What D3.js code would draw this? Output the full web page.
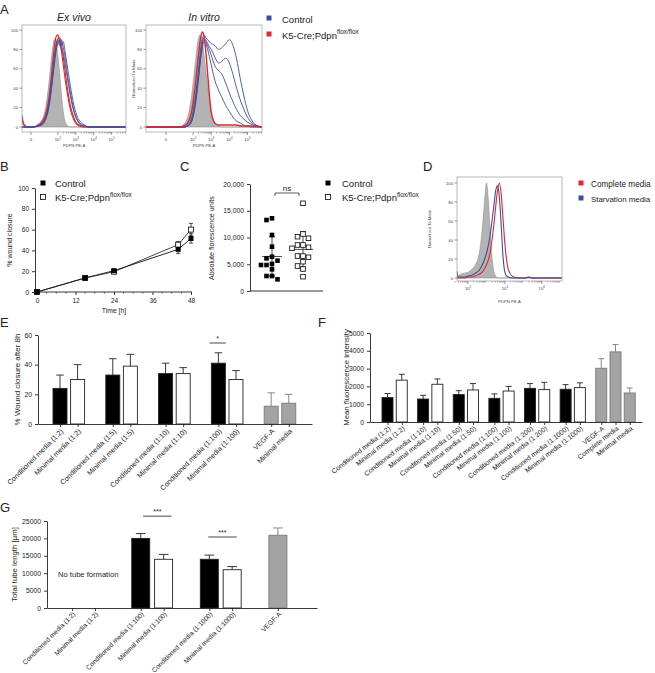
<!DOCTYPE html>
<html><head><meta charset="utf-8">
<script src="https://cdn.jsdelivr.net/npm/d3@7"></script>
<style>
body{margin:0;background:#fff;}
svg{display:block;}
</style></head><body>
<svg id="c" width="655" height="673"></svg>
<script>
// ================= DATA =================
// Panel A – flow histograms (display units on biexponential axis, % of mode)
const exGrid  = [0,0.1,0.3,0.6,0.9,1.1,1.3,1.5,1.7,1.8,1.9,2.0,2.1,2.2,2.3,2.4,2.5,2.7,2.9,3.1,3.4,3.8,4.5,5.2,5.8];
const exGrey  = [0,0,0,0,3,7,18,45,80,90,88,74,55,33,16,6,2,0,0,0,0,0,0,0,0];
const exRed1  = [12,3,0,0,2,5,12,30,65,82,93,95,88,78,64,50,38,18,7,2,0,0,0,0,0];
const exRed2  = [8,2,0,0,1,3,9,24,55,72,85,91,92,86,72,58,44,22,9,3,1,0,0,0,0];
const exBlue1 = [0,0,0,0,1,3,9,25,55,70,80,86,90,84,88,78,66,42,22,10,3,0,0,0,0];
const exBlue2 = [0,0,0,0,1,2,7,20,48,64,78,88,84,90,82,72,58,35,17,7,2,0,0,0,0];
const exBlue3 = [0,0,0,0,1,3,8,22,50,68,82,90,88,80,76,66,54,32,15,6,1,0,0,0,0];

const vitGrid  = [-0.6,0,0.6,1.2,1.5,1.7,1.9,2.1,2.3,2.4,2.5,2.6,2.7,2.8,3.0,3.2,3.4,3.6,3.8,4.0,4.2,4.4,4.6,4.8,5.0,5.2,5.4,5.8];
const vitGrey  = [0,0,0,0,3,10,30,62,92,95,88,75,58,42,16,4,1,0,0,0,0,0,0,0,0,0,0,0];
const vitRed   = [0,0,0,0,1,4,14,40,75,90,98,94,78,55,15,4,2,2,2,2,2,2,1,1,1,1,1,0];
const vitBlue1 = [0,0,0,0,0,2,8,28,60,78,90,95,92,90,86,84,80,82,86,90,84,70,50,32,17,8,3,0];
const vitBlue2 = [0,0,0,0,0,1,6,24,55,72,85,92,90,86,80,72,66,68,71,66,54,40,28,18,10,5,2,0];
const vitBlue3 = [0,0,0,0,0,1,5,22,52,70,84,90,88,84,74,63,58,54,45,35,26,18,12,8,5,3,1,0];
const vitBlue4 = [0,0,0,0,0,1,5,20,50,68,80,88,86,80,64,48,38,30,22,16,10,6,4,2,1,0,0,0];

const flowTicksY = [0,20,40,60,80,100];
const flowTickLabels = [["0",""],["10","2"],["10","3"],["10","4"],["10","5"]];
const flowTickU = [0.5,2,3,4,5];

// Panel B – wound closure time course
const bTimes   = [0,15,24,44,48];
const bCtrl    = [0,13.5,20.5,41,51.5];
const bCtrlSD  = [0,1,1,4,4.5];
const bKO      = [0,13.5,19.5,45.5,60];
const bKOSD    = [0,1,1,3,6];
const bTicksX  = [0,12,24,36,48];
const bTicksY  = [0,20,40,60,80,100];

// Panel C – absolute fluorescence units
const cCtrl = [13590,13270,10470,8280,6410,6100,5670,5050,4860,4860,4050,2800,2800,2180];
const cKO   = [16390,10650,10150,9850,8600,8600,7980,8170,6540,6540,6300,5480,4670,4110,2680];
const cTicks = [0,5000,10000,15000,20000];

// Panel D – flow histogram, complete vs starvation medium
const dGrid  = [1.4,1.45,1.6,1.8,2.0,2.2,2.4,2.6,2.7,2.8,2.9,3.0,3.1,3.2,3.3,3.4,3.5,3.6,3.7,3.8,3.9,4.0,4.1,4.2,4.4,4.7,5.1,5.3,5.5,6.0,7.1];
const dGrey  = [0,2,4,5,6,9,14,25,38,58,82,100,82,50,22,7,2,0,0,0,0,0,0,0,0,0,0,0,0,0,0];
const dBlue  = [7,1,1,1,2,3,5,8,11,15,20,26,34,45,60,76,92,97,85,55,22,6,2,1,0,0,0,1,0,0,0];
const dRed   = [1,0,0,0,1,1,2,4,5,7,10,14,19,27,40,56,75,92,100,88,62,36,18,8,2,0,0,1,0,0,0];
const dTickU = [2,4,6];

// Panel E – % wound closure after 8h
const eCats  = ["Conditioned media (1:2)","Minimal media (1:2)","Conditioned media (1:5)","Minimal media (1:5)","Conditioned media (1:10)","Minimal media (1:10)","Conditioned media (1:100)","Minimal media (1:100)","VEGF-A","Minimal media"];
const eKind  = ["c","m","c","m","c","m","c","m","g","g"];
const eGroup = [0,0,1,1,2,2,3,3,4,4];
const eVals  = [24,30,33,39,34,34,41,30,12,14];
const eSD    = [9,10,11,8,7,4,7,6,9,6];
const eTicks = [0,20,40,60];

// Panel F – mean fluorescence intensity
const fCats  = ["Conditioned media (1:2)","Minimal media (1:2)","Conditioned media (1:10)","Minimal media (1:10)","Conditioned media (1:50)","Minimal media (1:50)","Conditioned media (1:100)","Minimal media (1:100)","Conditioned media (1:200)","Minimal media (1:200)","Conditioned media (1:1000)","Minimal media (1:1000)","VEGF-A","Complete media","Minimal media"];
const fKind  = ["c","m","c","m","c","m","c","m","c","m","c","m","g","g","g"];
const fGroup = [0,0,1,1,2,2,3,3,4,4,5,5,6,6,6];
const fVals  = [1370,2350,1290,2120,1540,1800,1330,1740,1890,1820,1840,1930,3020,3940,1630];
const fSD    = [230,330,210,300,220,360,250,260,270,410,260,270,540,410,280];
const fTicks = [0,1000,2000,3000,4000,5000];

// Panel G – total tube length
const gCats  = ["Conditioned media (1:2)","Minimal media (1:2)","Conditioned media (1:100)","Minimal media (1:100)","Conditioned media (1:1000)","Minimal media (1:1000)","VEGF-A"];
const gKind  = ["c","m","c","m","c","m","g"];
const gGroup = [0,0,1,1,2,2,3];
const gVals  = [null,null,20000,14000,14000,11000,20900];
const gSD    = [null,null,1400,1400,1200,900,2100];
const gTicks = [0,5000,10000,15000,20000,25000];

// ================= DRAWING =================
const FONT = '"Liberation Sans", Arial, Helvetica, sans-serif';
const INK = "#222";
const RED = "#e3262b", BLUE = "#3c4f9e";
const svg = d3.select("#c").attr("font-family", FONT);
svg.append("rect").attr("width",655).attr("height",673).attr("fill","#fff");

function txt(x, y, s, size, o = {}) {
  const t = svg.append("text").attr("x",x).attr("y",y).attr("font-size",size).attr("fill",o.fill||INK).text(s);
  if (o.anchor) t.attr("text-anchor", o.anchor);
  if (o.italic) t.attr("font-style","italic");
  if (o.rotate) t.attr("transform", `rotate(${o.rotate},${x},${y})`);
  return t;
}
function supTxt(x, y, base, sup, size, o = {}) {
  const t = svg.append("text").attr("x",x).attr("y",y).attr("font-size",size).attr("fill",o.fill||INK);
  if (o.anchor) t.attr("text-anchor", o.anchor);
  t.append("tspan").text(base);
  if (sup) t.append("tspan").attr("dy", -size*0.45).attr("font-size", size*0.68).text(sup);
  return t;
}
function styleAxis(g, fs) {
  g.attr("font-family", FONT);
  g.selectAll("path,line").attr("stroke", INK).attr("stroke-width", 0.9);
  g.selectAll("text").attr("font-size", fs).attr("fill", INK);
}
function square(x, y, s, filled, color) {
  svg.append("rect").attr("x", x - s/2).attr("y", y - s/2).attr("width", s).attr("height", s)
    .attr("fill", filled ? (color || "#000") : "#fff").attr("stroke", color || "#000").attr("stroke-width", filled ? 0 : 0.8);
}

// ---------- flow panel helper ----------
let clipId = 0;
function flowPanel(cfg) {
  const [x0, x1, y0, y1] = cfg.frame;
  const x = d3.scaleLinear().domain(cfg.domain).range([x0, x1]);
  const y = d3.scaleLinear().domain([0, 100]).range([cfg.y0px, cfg.y100px]);
  const id = "clip" + (clipId++);
  svg.append("clipPath").attr("id", id).append("rect").attr("x", x0).attr("y", y0).attr("width", x1 - x0).attr("height", y1 - y0);
  const g = svg.append("g").attr("clip-path", `url(#${id})`);
  const area = d3.area().x((d,i) => x(cfg.grid[i])).y0(y(0)).y1(d => y(d)).curve(d3.curveMonotoneX);
  const line = d3.line().x((d,i) => x(cfg.grid[i])).y(d => y(d)).curve(d3.curveMonotoneX);
  g.append("path").attr("d", area(cfg.grey)).attr("fill", "#b3b3b3").attr("stroke", "#8f8f8f").attr("stroke-width", 0.6);
  cfg.lines.forEach(l => g.append("path").attr("d", line(l.v)).attr("fill", "none")
    .attr("stroke", l.c).attr("stroke-width", l.w || 1));
  svg.append("rect").attr("x", x0).attr("y", y0).attr("width", x1 - x0).attr("height", y1 - y0)
    .attr("fill", "none").attr("stroke", "#9a9a9a").attr("stroke-width", 0.7);
  flowTicksY.forEach(v => {
    svg.append("line").attr("x1", x0 - 2.5).attr("x2", x0).attr("y1", y(v)).attr("y2", y(v)).attr("stroke", "#555").attr("stroke-width", 0.6);
    txt(x0 - 4, y(v) + 1.5, String(v), 4.2, { anchor: "end", fill: "#444" });
  });
  cfg.tickU.forEach((u, i) => {
    svg.append("line").attr("x1", x(u)).attr("x2", x(u)).attr("y1", y1).attr("y2", y1 + 3).attr("stroke", "#555").attr("stroke-width", 0.6);
    const lab = cfg.tickLabels[i];
    supTxt(x(u), y1 + 9, lab[0], lab[1], 4.2, { anchor: "middle", fill: "#444" });
  });
  cfg.minorDecades.forEach(dd => {
    for (let k = 2; k <= 9; k++) {
      const u = dd + Math.log10(k);
      if (u > cfg.domain[1]) continue;
      svg.append("line").attr("x1", x(u)).attr("x2", x(u)).attr("y1", y1).attr("y2", y1 + 1.6).attr("stroke", "#666").attr("stroke-width", 0.5);
    }
  });
  txt((x0 + x1) / 2, cfg.titleY, "PDPN PE-A", 4.2, { anchor: "middle", fill: "#444" });
  if (cfg.yLabelX) txt(cfg.yLabelX, (y0 + y1) / 2, "Normalized To Mode", 4.2, { anchor: "middle", rotate: -90, fill: "#444" });
}

// ---------- Panel A ----------
txt(0, 14, "A", 13);
txt(74, 21, "Ex vivo", 10.5, { anchor: "middle", italic: true });
txt(204, 21, "In vitro", 10.5, { anchor: "middle", italic: true });
flowPanel({
  frame: [22, 126, 25, 132], domain: [0, 5.8], y0px: 127, y100px: 30, grid: exGrid, grey: exGrey,
  lines: [{v: exRed1, c: RED, w: 1.1}, {v: exRed2, c: RED, w: 1.1}, {v: exBlue1, c: BLUE, w: 0.9}, {v: exBlue2, c: BLUE, w: 0.9}, {v: exBlue3, c: BLUE, w: 0.9}],
  tickU: flowTickU, tickLabels: flowTickLabels, minorDecades: [2,3,4,5], titleY: 147
});
flowPanel({
  frame: [146, 262, 25, 132], domain: [-0.6, 5.8], y0px: 127, y100px: 30, grid: vitGrid, grey: vitGrey,
  lines: [{v: vitBlue1, c: BLUE, w: 0.9}, {v: vitBlue2, c: BLUE, w: 0.9}, {v: vitBlue3, c: BLUE, w: 0.9}, {v: vitBlue4, c: BLUE, w: 0.9}, {v: vitRed, c: RED, w: 1.4}],
  tickU: flowTickU, tickLabels: flowTickLabels, minorDecades: [2,3,4,5], titleY: 147, yLabelX: 135
});
square(269, 18, 5, true, BLUE);
txt(282, 22.5, "Control", 9.5);
square(269, 34, 5, true, RED);
supTxt(282, 38.5, "K5-Cre;Pdpn", "flox/flox", 9.5);

// ---------- Panel B ----------
txt(0, 171, "B", 13);
{
  const x = d3.scaleLinear().domain([0, 48]).range([37, 191]);
  const y = d3.scaleLinear().domain([0, 100]).range([292, 188]);
  const ya = svg.append("g").attr("transform", "translate(35,0)").call(d3.axisLeft(y).tickValues(bTicksY).tickSize(3).tickSizeOuter(0));
  styleAxis(ya, 6.5);
  const xa = svg.append("g").attr("transform", "translate(0,292)").call(d3.axisBottom(x).tickValues(bTicksX).tickSize(3).tickSizeOuter(0));
  styleAxis(xa, 6.5);
  xa.select(".domain").attr("d", "M35,0H192");
  d3.range(0, 49, 3).filter(t => t % 12).forEach(t => svg.append("line").attr("x1", x(t)).attr("x2", x(t)).attr("y1", 292).attr("y2", 293.8).attr("stroke", INK).attr("stroke-width", 0.6));
  txt(114, 313, "Time [h]", 6.8, { anchor: "middle" });
  txt(12, 240, "% wound closure", 7, { anchor: "middle", rotate: -90 });
  const line = d3.line().x((d, i) => x(bTimes[i])).y(d => y(d));
  svg.append("path").attr("d", line(bKO)).attr("fill", "none").attr("stroke", "#333").attr("stroke-width", 0.9);
  svg.append("path").attr("d", line(bCtrl)).attr("fill", "none").attr("stroke", "#111").attr("stroke-width", 0.9);
  const err = (vals, sd) => vals.forEach((v, i) => {
    if (!sd[i]) return;
    const cx = x(bTimes[i]);
    [y(v - sd[i]), y(v + sd[i])].forEach(ey => {
      svg.append("line").attr("x1", cx).attr("x2", cx).attr("y1", y(v)).attr("y2", ey).attr("stroke", "#222").attr("stroke-width", 0.8);
      svg.append("line").attr("x1", cx - 2).attr("x2", cx + 2).attr("y1", ey).attr("y2", ey).attr("stroke", "#222").attr("stroke-width", 0.8);
    });
  });
  err(bCtrl, bCtrlSD); err(bKO, bKOSD);
  bKO.forEach((v, i) => square(x(bTimes[i]), y(v), 5, false));
  bCtrl.forEach((v, i) => square(x(bTimes[i]), y(v), 5, true));
  square(43, 183, 5, true);
  txt(55, 186.5, "Control", 9.5);
  square(43, 197, 5, false);
  supTxt(55, 201, "K5-Cre;Pdpn", "flox/flox", 9.5);
}

// ---------- Panel C ----------
txt(180, 171, "C", 13);
{
  const y = d3.scaleLinear().domain([0, 20000]).range([291, 184]);
  const ya = svg.append("g").attr("transform", "translate(250,0)").call(d3.axisLeft(y).tickValues(cTicks).tickSize(3).tickSizeOuter(0).tickFormat(d3.format(",")));
  styleAxis(ya, 6.8);
  svg.append("line").attr("x1", 250).attr("x2", 323).attr("y1", 291).attr("y2", 291).attr("stroke", INK).attr("stroke-width", 0.9);
  txt(214, 238, "Absolute florescence units", 7.2, { anchor: "middle", rotate: -90 });
  const s = 4.6;
  function swarm(vals, cx) {
    const pts = [];
    vals.slice().sort((a, b) => b - a).forEach(v => {
      const py = y(v);
      let px = cx;
      for (const o of [0, -1, 1, -2, 2, -3, 3, -4, 4]) {
        px = cx + o * (s + 0.9);
        if (!pts.some(p => Math.abs(p.x - px) < s + 0.6 && Math.abs(p.y - py) < s + 0.6)) break;
      }
      pts.push({ x: px, y: py });
    });
    return pts;
  }
  function meanSD(vals, cx) {
    const m = d3.mean(vals), sd = d3.deviation(vals);
    svg.append("line").attr("x1", cx - 10).attr("x2", cx + 10).attr("y1", y(m)).attr("y2", y(m)).attr("stroke", "#333").attr("stroke-width", 0.9);
    svg.append("line").attr("x1", cx).attr("x2", cx).attr("y1", y(m - sd)).attr("y2", y(m + sd)).attr("stroke", "#333").attr("stroke-width", 0.9);
    [m - sd, m + sd].forEach(v => svg.append("line").attr("x1", cx - 3).attr("x2", cx + 3).attr("y1", y(v)).attr("y2", y(v)).attr("stroke", "#333").attr("stroke-width", 0.9));
  }
  meanSD(cCtrl, 272);
  meanSD(cKO, 303);
  swarm(cCtrl, 272).forEach(p => square(p.x, p.y, s, true));
  swarm(cKO, 303).forEach(p => square(p.x, p.y, s, false));
  svg.append("path").attr("d", "M275,196V193H299V196").attr("fill", "none").attr("stroke", "#333").attr("stroke-width", 0.8);
  txt(287, 190.5, "ns", 8, { anchor: "middle" });
  square(328, 183, 5, true);
  txt(342, 186.5, "Control", 9.5);
  square(328, 197, 5, false);
  supTxt(342, 201, "K5-Cre;Pdpn", "flox/flox", 9.5);
}

// ---------- Panel D ----------
txt(423, 171, "D", 13);
{
  flowPanel({
    frame: [457, 562, 177, 281], domain: [1.4, 7.1], y0px: 278, y100px: 183, grid: dGrid, grey: dGrey,
    lines: [{v: dRed, c: RED, w: 1.1}, {v: dBlue, c: BLUE, w: 1.1}],
    tickU: dTickU, tickLabels: dTickU.map(u => ["10", String(u)]), minorDecades: [1,2,3,4,5,6], titleY: 303, yLabelX: 431
  });
  square(581, 183, 5, true, RED);
  txt(591, 186.5, "Complete media", 8.2);
  square(581, 198, 5, true, BLUE);
  txt(591, 201.5, "Starvation media", 7.9);
}

// ---------- bar panel helper ----------
function barPanel(cfg) {
  const pos = cfg.groups.map((g, i) => g * cfg.groupSlots + (i - cfg.groups.indexOf(g)));
  const x = d3.scaleLinear().domain(cfg.slotDomain).range(cfg.xRange);
  const y = d3.scaleLinear().domain(cfg.yDomain).range(cfg.yRange);
  const ya = svg.append("g").attr("transform", `translate(${cfg.xRange[0]},0)`)
    .call(d3.axisLeft(y).tickValues(cfg.ticks).tickSize(3).tickSizeOuter(0).tickFormat(d3.format("d")));
  styleAxis(ya, 6.8);
  const bw = cfg.barW;
  const fillOf = k => k === "c" ? "#000" : k === "m" ? "#fff" : "#a3a3a3";
  const strokeOf = k => k === "g" ? "#7a7a7a" : "#222";
  cfg.vals.forEach((v, i) => {
    if (v == null) return;
    const cx = x(pos[i]), k = cfg.kinds[i];
    const top = y(v + cfg.sd[i]);
    svg.append("line").attr("x1", cx).attr("x2", cx).attr("y1", y(v)).attr("y2", top).attr("stroke", strokeOf(k)).attr("stroke-width", 0.9);
    svg.append("line").attr("x1", cx - bw * 0.27).attr("x2", cx + bw * 0.27).attr("y1", top).attr("y2", top).attr("stroke", strokeOf(k)).attr("stroke-width", 0.9);
    svg.append("rect").attr("x", cx - bw / 2).attr("y", y(v)).attr("width", bw).attr("height", y(0) - y(v))
      .attr("fill", fillOf(k)).attr("stroke", strokeOf(k)).attr("stroke-width", 0.9);
  });
  const xa = svg.append("g").attr("transform", `translate(0,${cfg.yRange[0]})`)
    .call(d3.axisBottom(x).tickValues(pos).tickSize(3).tickSizeOuter(0).tickFormat((d, i) => cfg.cats[i]));
  styleAxis(xa, cfg.labelSize);
  xa.selectAll(".tick text").attr("text-anchor", "end").attr("x", 0).attr("y", 0).attr("dy", "0.35em")
    .attr("transform", `translate(1.5,${cfg.labelDrop}) rotate(${-cfg.angle})`);
  txt(cfg.yLabelX, (cfg.yRange[0] + cfg.yRange[1]) / 2, cfg.yLabel, cfg.yLabelSize, { anchor: "middle", rotate: -90 });
  (cfg.sig || []).forEach(sg => {
    const yy = y(sg.level);
    svg.append("line").attr("x1", x(pos[sg.from] + sg.dFrom)).attr("x2", x(pos[sg.to] + sg.dTo)).attr("y1", yy).attr("y2", yy).attr("stroke", "#333").attr("stroke-width", 0.9);
    txt((x(pos[sg.from] + sg.dFrom) + x(pos[sg.to] + sg.dTo)) / 2, yy - 2, sg.label, 7, { anchor: "middle" });
  });
  return { x, y, pos };
}

// ---------- Panel E ----------
txt(0, 327, "E", 13);
barPanel({
  cats: eCats, kinds: eKind, groups: eGroup, vals: eVals, sd: eSD, groupSlots: 3,
  slotDomain: [-1.25, 14.32], xRange: [38, 312], yDomain: [0, 60], yRange: [424, 335], ticks: eTicks,
  barW: 14, labelSize: 7.1, labelDrop: 6, angle: 45,
  yLabel: "% Wound closure after 8h", yLabelX: 20, yLabelSize: 8,
  sig: [{ from: 6, to: 6, dFrom: -0.5, dTo: 0.42, level: 54.6, label: "*" }]
});

// ---------- Panel F ----------
txt(318, 327, "F", 13);
barPanel({
  cats: fCats, kinds: fKind, groups: fGroup, vals: fVals, sd: fSD, groupSlots: 2.5,
  slotDomain: [-1.228, 17.86], xRange: [370, 642], yDomain: [0, 5000], yRange: [422, 333], ticks: fTicks,
  barW: 11, labelSize: 6.8, labelDrop: 5.5, angle: 38,
  yLabel: "Mean fluorescence intensity", yLabelX: 349, yLabelSize: 7.8
});

// ---------- Panel G ----------
txt(0, 512, "G", 13);
barPanel({
  cats: gCats, kinds: gKind, groups: gGroup, vals: gVals, sd: gSD, groupSlots: 3,
  slotDomain: [-1.1, 10.71], xRange: [47, 317], yDomain: [0, 25000], yRange: [608, 521], ticks: gTicks,
  barW: 18, labelSize: 6.7, labelDrop: 5, angle: 45,
  yLabel: "Total tube length [µm]", yLabelX: 17, yLabelSize: 7.8,
  sig: [{ from: 2, to: 3, dFrom: 0.1, dTo: 0.35, level: 26400, label: "***" },
        { from: 4, to: 5, dFrom: -0.05, dTo: 0.2, level: 20400, label: "***" }]
});
txt(58, 577, "No tube formation", 7.6);
</script>
</body></html>
